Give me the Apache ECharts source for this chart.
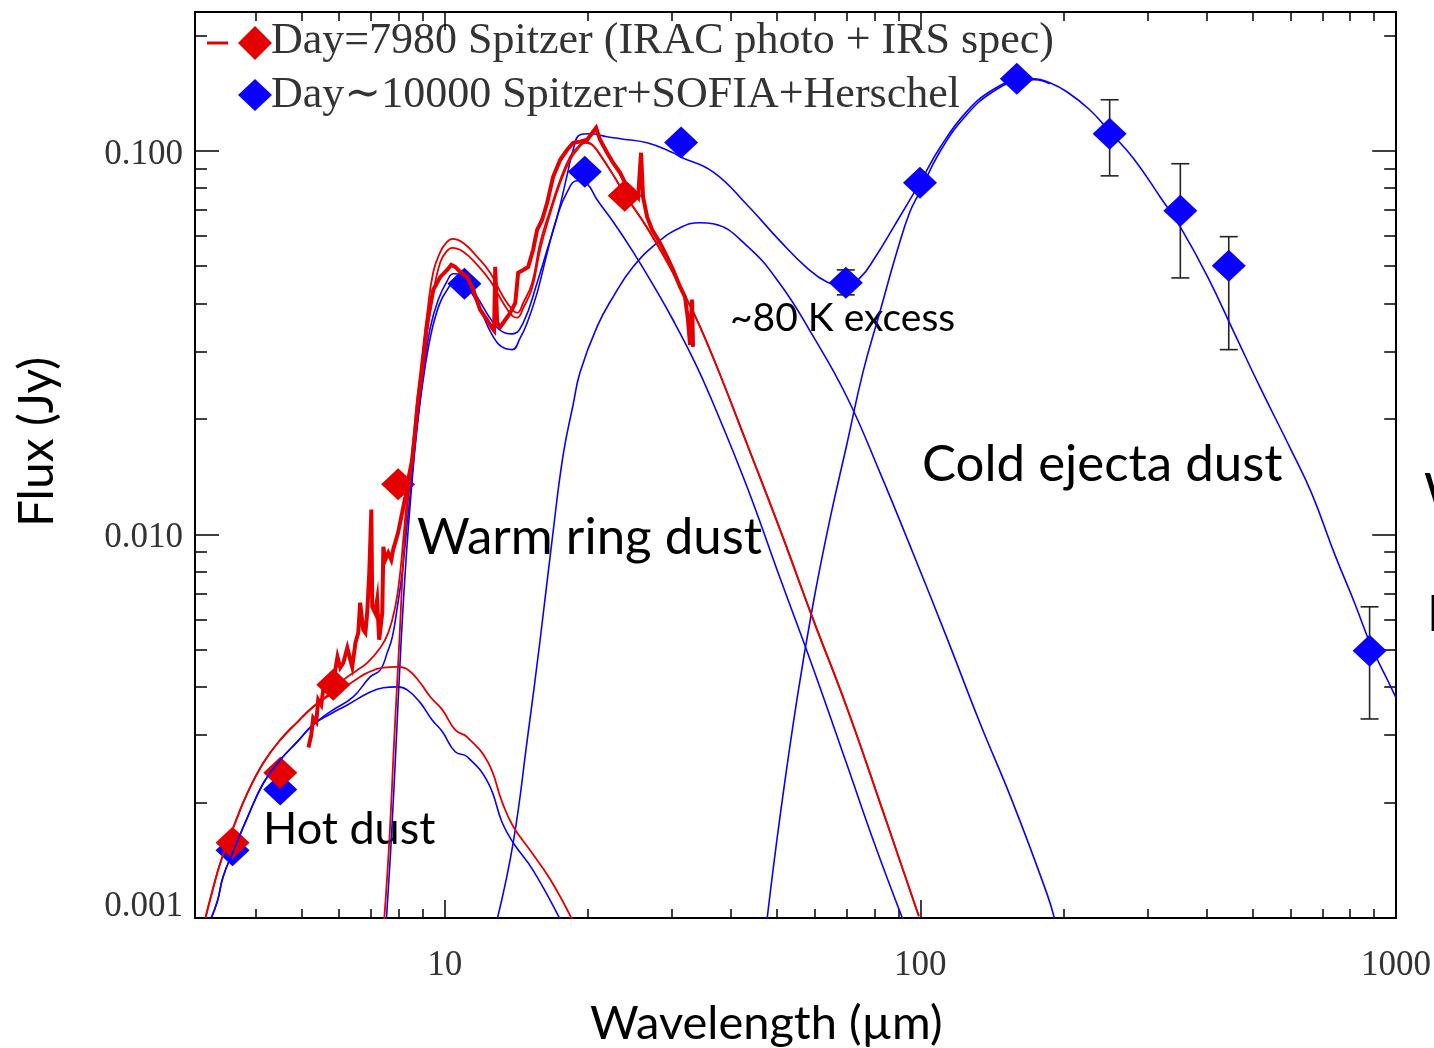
<!DOCTYPE html>
<html>
<head>
<meta charset="utf-8">
<title>SED</title>
<script src="https://cdn.jsdelivr.net/npm/echarts@6.0.0/dist/echarts.min.js"></script>
<style>
  html, body { margin: 0; padding: 0; background: #fff; }
  #chart { width: 1434px; height: 1048px; }
</style>
</head>
<body>
<div id="chart"></div>
<script>
// ticks
var xMajor = [10, 100, 1000];
var xMinor = [4, 5, 6, 7, 8, 9, 20, 30, 40, 50, 60, 70, 80, 90, 200, 300, 400, 500, 600, 700, 800, 900];
var yMajor = [0.001, 0.01, 0.1];
var yMinor = [0.002, 0.003, 0.004, 0.005, 0.006, 0.007, 0.008, 0.009,
  0.02, 0.03, 0.04, 0.05, 0.06, 0.07, 0.08, 0.09, 0.2];

// photometry [wavelength um, flux Jy]
var redPhot = [[3.58, 0.00157], [4.51, 0.00239], [5.83, 0.00405], [7.98, 0.0135], [23.9, 0.0763]];
var bluePhot = [[3.58, 0.00150], [4.51, 0.00216], [11.0, 0.0450], [19.7, 0.0881], [31.4, 0.105],
  [69.7, 0.0453], [99.8, 0.0825], [159.5, 0.154], [250, 0.1107], [352, 0.0697], [445, 0.0501], [880, 0.00497]];
// [wavelength, low, high]
var blueErr = [[69.7, 0.0421, 0.0489], [250, 0.0860, 0.1358], [352, 0.0466, 0.0925],
  [445, 0.0303, 0.0597], [880, 0.00330, 0.00647]];

// IRS spectrum, day 7980
var redSpec = [[5.17,0.00278],[5.24,0.00300],[5.29,0.00332],[5.37,0.00324],[5.42,0.00370],[5.50,0.00359],
  [5.56,0.00398],[5.64,0.00393],[5.75,0.00425],[5.83,0.00412],[5.95,0.00479],[6.03,0.00449],[6.12,0.00462],
  [6.24,0.00506],[6.33,0.00471],[6.39,0.00451],[6.49,0.00521],[6.58,0.00554],[6.64,0.00663],[6.74,0.00564],
  [6.81,0.00554],[6.87,0.00624],[6.94,0.00794],[7.01,0.0116],[7.04,0.00647],[7.14,0.00624],[7.21,0.00675],
  [7.28,0.00531],[7.39,0.00624],[7.43,0.00928],[7.50,0.00858],[7.61,0.00895],[7.72,0.00858],[7.79,0.00911],
  [7.98,0.0101],[8.14,0.0114],[8.26,0.0125],[8.38,0.0139],[8.54,0.0156],[8.67,0.0187],[8.79,0.0224],
  [8.97,0.0268],[9.19,0.0356],[9.46,0.0434],[9.79,0.0469],[10.12,0.0489],[10.32,0.0504],[10.52,0.0498],
  [10.78,0.0483],[11.15,0.0469],[11.48,0.0434],[11.87,0.0385],[12.28,0.0362],[12.58,0.0345],[12.70,0.0340],
  [12.77,0.0498],[12.89,0.0356],[13.08,0.0347],[13.40,0.0362],[13.73,0.0378],[14.07,0.0401],[14.27,0.0481],
  [14.62,0.0489],[14.98,0.0498],[15.34,0.0552],[15.64,0.0622],[16.02,0.0660],[16.42,0.0732],[16.90,0.0855],
  [17.49,0.0947],[18.09,0.1006],[18.62,0.1049],[19.26,0.1056],[19.93,0.1068],[20.51,0.1121],[20.81,0.1148],
  [21.21,0.1068],[21.95,0.0988],[22.60,0.0930],[23.38,0.0876],[23.94,0.0825],[24.89,0.0791],[25.50,0.0758],
  [25.87,0.0988],[26.12,0.0758],[26.64,0.0672],[27.29,0.0622],[28.36,0.0575],[29.34,0.0529],[30.20,0.0489],
  [31.24,0.0442],[32.00,0.0416],[32.47,0.0362],[32.79,0.0312],[33.11,0.0409],[33.27,0.0308]];

// model components, day 7980
var redHot = [[3.14,0.00100],[3.25,0.00118],[3.38,0.00140],[3.60,0.00173],[3.85,0.00212],[4.16,0.00254],
  [4.51,0.00291],[4.90,0.00324],[5.29,0.00355],[5.75,0.00382],[6.03,0.00393],[6.49,0.00417],[6.87,0.00435],
  [7.43,0.00449],[7.95,0.00451],[8.38,0.00443],[8.88,0.00410],[9.32,0.00377],[9.88,0.00349],[10.52,0.00309],
  [11.15,0.00296],[12.34,0.00254],[13.21,0.00200],[13.93,0.00173],[15.12,0.00150],[16.66,0.00126],[18.53,0.00099]];
var redWarm = [[7.46,0.00099],[7.65,0.00160],[7.83,0.00291],[8.03,0.00531],[8.22,0.00939],[8.42,0.0131],
  [8.63,0.0176],[8.88,0.0245],[9.19,0.0341],[9.50,0.0439],[9.79,0.0513],[10.07,0.0545],[10.37,0.0558],
  [10.94,0.0545],[11.70,0.0504],[12.46,0.0458],[13.27,0.0401],[13.87,0.0371],[14.20,0.0367],[14.62,0.0389],
  [15.27,0.0439],[15.87,0.0552],[16.66,0.0685],[17.49,0.0825],[18.35,0.0947],[19.07,0.1012],[19.73,0.1049],
  [20.41,0.1037],[21.21,0.0976],[22.60,0.0865],[23.94,0.0768],[26.64,0.0630],[29.34,0.0513],[32.31,0.0409],
  [34.41,0.0348],[37.91,0.0261],[43.20,0.0172],[50.67,0.0103],[59.45,0.00602],[70.08,0.00353],[82.20,0.00200],
  [99.27,0.00101]];
var redTotal = [[3.14,0.00100],[3.25,0.00118],[3.38,0.00140],[3.60,0.00173],[3.85,0.00212],[4.16,0.00254],
  [4.51,0.00291],[4.90,0.00324],[5.29,0.00355],[5.75,0.00386],[6.12,0.00417],[6.52,0.00441],[6.87,0.00462],
  [7.32,0.00506],[7.61,0.00554],[7.87,0.00647],[8.06,0.00794],[8.18,0.00968],[8.30,0.0118],[8.42,0.0139],
  [8.59,0.0176],[8.75,0.0224],[8.92,0.0277],[9.19,0.0378],[9.46,0.0483],[9.79,0.0545],[10.07,0.0575],
  [10.37,0.0589],[10.94,0.0575],[11.70,0.0529],[12.46,0.0481],[13.27,0.0416],[13.87,0.0385],[14.20,0.0378],
  [14.62,0.0401],[15.27,0.0453],[15.87,0.0575],[16.66,0.0701],[17.49,0.0840],[18.35,0.0965],[19.07,0.1024],
  [19.73,0.1056],[20.41,0.1037],[21.21,0.0976],[22.60,0.0865],[23.94,0.0768],[26.64,0.0630],[29.34,0.0513],
  [32.31,0.0409],[34.41,0.0348],[37.91,0.0261],[43.20,0.0172],[50.67,0.0103],[59.45,0.00602],[70.08,0.00353],
  [82.20,0.00200],[99.27,0.00101]];

// model components, day ~10000
var blueHot = [[3.23,0.00100],[3.33,0.00111],[3.42,0.00128],[3.60,0.00150],[3.85,0.00183],[4.16,0.00225],
  [4.51,0.00258],[4.90,0.00288],[5.29,0.00319],[5.75,0.00340],[6.24,0.00359],[6.97,0.00388],[7.43,0.00398],
  [7.95,0.00400],[8.34,0.00393],[8.88,0.00364],[9.41,0.00328],[9.88,0.00306],[10.52,0.00271],[11.15,0.00263],
  [12.34,0.00225],[13.21,0.00177],[13.93,0.00157],[15.34,0.00133],[17.49,0.00099]];
var blueWarm = [[7.54,0.00099],[7.72,0.00160],[7.91,0.00291],[8.10,0.00531],[8.30,0.00874],[8.51,0.0131],
  [8.71,0.0180],[9.01,0.0253],[9.37,0.0335],[9.74,0.0397],[10.12,0.0434],[10.52,0.0455],[11.04,0.0447],
  [11.70,0.0401],[12.65,0.0327],[13.40,0.0305],[13.87,0.0303],[14.41,0.0325],[14.91,0.0356],[15.64,0.0426],
  [16.42,0.0542],[17.23,0.0673],[18.09,0.0781],[18.98,0.0835],[19.93,0.0820],[20.91,0.0745],[22.60,0.0653],
  [24.89,0.0545],[27.42,0.0447],[30.20,0.0362],[33.60,0.0280],[36.65,0.0220],[43.20,0.0133],[50.67,0.00770],
  [59.45,0.00449],[70.08,0.00251],[80.24,0.00155],[91.9,0.00099]];
var blue80K = [[12.89,0.00099],[13.93,0.00157],[14.91,0.00291],[15.87,0.00531],[16.82,0.00968],[17.74,0.0161],
  [18.62,0.0218],[19.26,0.0265],[20.91,0.0348],[22.60,0.0416],[24.89,0.0498],[27.96,0.0575],[31.24,0.0630],
  [34.41,0.0649],[36.65,0.0645],[43.20,0.0565],[50.67,0.0450],[59.45,0.0329],[70.08,0.0228],[82.20,0.0145],
  [96.43,0.00895],[113.7,0.00537],[133.3,0.00323],[156.4,0.00200],[184.4,0.00116],[191.7,0.00099]];
var blueCold = [[47.6,0.00099],[50.67,0.00183],[55.03,0.00372],[59.45,0.00655],[64.5,0.0109],[70.08,0.0172],
  [75.7,0.0264],[82.20,0.0380],[89.25,0.0545],[95.06,0.0693],[99.75,0.0781],[109.9,0.0994],[124.6,0.1234],
  [142.0,0.1425],[161.1,0.1522],[174.0,0.1532],[187.1,0.1495]];
var blueTotal = [[3.23,0.00100],[3.33,0.00111],[3.42,0.00128],[3.60,0.00150],[3.85,0.00183],[4.16,0.00225],
  [4.51,0.00258],[4.90,0.00288],[5.29,0.00319],[5.75,0.00345],[6.42,0.00377],[6.97,0.00425],[7.32,0.00443],
  [7.57,0.00491],[7.76,0.00540],[7.95,0.00647],[8.14,0.00794],[8.34,0.0107],[8.54,0.0143],[8.75,0.0193],
  [9.01,0.0261],[9.32,0.0345],[9.69,0.0409],[10.12,0.0458],[10.42,0.0478],[10.78,0.0475],[11.31,0.0442],
  [11.70,0.0416],[12.65,0.0356],[13.40,0.0335],[13.87,0.0333],[14.62,0.0356],[15.64,0.0453],[16.42,0.0552],
  [17.23,0.0672],[18.09,0.0865],[18.62,0.1006],[19.26,0.1101],[20.22,0.1107],[21.95,0.1088],[23.38,0.1075],
  [26.64,0.1049],[30.20,0.0988],[31.24,0.0965],[36.65,0.0881],[43.20,0.0723],[50.67,0.0582],[57.74,0.0495],
  [63.61,0.0455],[69.40,0.0445],[74.64,0.0466],[80.24,0.0526],[88.41,0.0641],[99.75,0.0825],[109.9,0.1018],
  [124.6,0.1257],[142.0,0.1442],[161.1,0.1532],[174.0,0.1541],[187.1,0.1504],[203.2,0.1425],[227.0,0.1279],
  [251.3,0.1114],[280.9,0.0953],[320.1,0.0754],[352.6,0.0630],[401.8,0.0469],[458.0,0.0333],[519.2,0.0240],
  [600.2,0.0167],[664.5,0.0128],[742.6,0.00889],[818.0,0.00663],[888.3,0.00509],[964.2,0.00412],[1000,0.00375]];

var RED = '#e40000';
var BLUE = '#0a00ff';
var X_MIN = 2.985, X_MAX = 1001;
var Y_MIN = 0.000999, Y_MAX = 0.23;
var serif = '"Liberation Serif", "DejaVu Serif", serif';
var sans = 'Lato, "Open Sans", sans-serif';

var chart = echarts.init(document.getElementById('chart'), null, {renderer: 'canvas'});

function xAxisDef(pos, ticks, len, labels) {
  return {
    type: 'log', position: pos, min: X_MIN, max: X_MAX,
    axisLine: {show: labels !== null, onZero: false, lineStyle: {color: '#000', width: 2}},
    axisTick: {show: true, inside: true, length: len, customValues: ticks,
      lineStyle: {color: '#000', width: 1.5}},
    axisLabel: labels ? {show: true, customValues: labels, margin: 30,
      fontFamily: serif, fontSize: 35, color: '#333',
      formatter: function (v) { return String(Math.round(v)); }} : {show: false},
    splitLine: {show: false}
  };
}

function yAxisDef(pos, ticks, len, labels) {
  return {
    type: 'log', position: pos, min: Y_MIN, max: Y_MAX,
    axisLine: {show: labels !== null, onZero: false, lineStyle: {color: '#000', width: 2}},
    axisTick: {show: true, inside: true, length: len, customValues: ticks,
      lineStyle: {color: '#000', width: 1.5}},
    axisLabel: labels ? {show: true, customValues: labels, margin: 12,
      fontFamily: serif, fontSize: 35, color: '#333',
      formatter: function (v) {
        return v < 0.002 ? '{lo|0.001}' : '{n|' + v.toFixed(3) + '}';
      },
      rich: {
        lo: {fontFamily: serif, fontSize: 35, color: '#333', padding: [0, 0, 22, 0]},
        n: {fontFamily: serif, fontSize: 35, color: '#333', padding: [8, 0, 0, 0]}
      }} : {show: false},
    splitLine: {show: false}
  };
}

function modelLine(name, data, color, width) {
  return {
    name: name, type: 'line', data: data, showSymbol: false, symbol: 'none',
    smooth: 0.45, clip: true,
    lineStyle: {color: color, width: width}, silent: true
  };
}

function renderErr(params, api) {
  var x = api.value(0);
  var lo = api.coord([x, api.value(1)]);
  var hi = api.coord([x, api.value(2)]);
  var w = 9;
  var st = {stroke: '#222', lineWidth: 1.6};
  return {
    type: 'group',
    children: [
      {type: 'line', shape: {x1: lo[0], y1: lo[1], x2: hi[0], y2: hi[1]}, style: st},
      {type: 'line', shape: {x1: lo[0] - w, y1: lo[1], x2: lo[0] + w, y2: lo[1]}, style: st},
      {type: 'line', shape: {x1: hi[0] - w, y1: hi[1], x2: hi[0] + w, y2: hi[1]}, style: st}
    ]
  };
}

function label(text, x, y, size) {
  return {type: 'text', x: x, y: y, silent: true,
    style: {text: text, font: size + 'px ' + sans, fill: '#000', verticalAlign: 'middle'}};
}

var option = {
  animation: false,
  backgroundColor: '#fff',
  grid: {left: 195, right: 37, top: 12, bottom: 130, containLabel: false},
  xAxis: [
    xAxisDef('bottom', xMajor, 18, xMajor),
    xAxisDef('bottom', xMinor, 9, null),
    xAxisDef('top', xMajor, 18, false),
    xAxisDef('top', xMinor, 9, null)
  ],
  yAxis: [
    yAxisDef('left', yMajor, 24, yMajor),
    yAxisDef('left', yMinor, 12, null),
    yAxisDef('right', yMajor, 24, false),
    yAxisDef('right', yMinor, 12, null)
  ],
  series: [
    modelLine('blueHot', blueHot, BLUE, 1.6),
    modelLine('blueWarm', blueWarm, BLUE, 1.6),
    modelLine('blue80K', blue80K, BLUE, 1.6),
    modelLine('blueCold', blueCold, BLUE, 1.6),
    modelLine('blueTotal', blueTotal, BLUE, 1.6),
    modelLine('redHot', redHot, RED, 1.8),
    modelLine('redWarm', redWarm, RED, 1.8),
    modelLine('redTotal', redTotal, RED, 1.8),
    {
      name: 'IRS', type: 'line', data: redSpec, showSymbol: false, symbol: 'none',
      lineStyle: {color: RED, width: 4, join: 'miter'}, silent: true
    },
    {
      name: 'err', type: 'custom', data: blueErr, renderItem: renderErr,
      encode: {x: 0, y: [1, 2]}, silent: true
    },
    {
      name: 'Day~10000', type: 'scatter', data: bluePhot, symbol: 'diamond',
      symbolSize: [34, 32], itemStyle: {color: BLUE, opacity: 1}, silent: true
    },
    {
      name: 'Day=7980', type: 'scatter', data: redPhot, symbol: 'diamond',
      symbolSize: [34, 32], itemStyle: {color: RED, opacity: 1}, silent: true
    }
  ],
  graphic: [
    // legend
    {type: 'line', shape: {x1: 207, y1: 43, x2: 228, y2: 43}, style: {stroke: RED, lineWidth: 3}},
    {type: 'polygon', shape: {points: [[255, 26], [272, 43], [255, 60], [238, 43]]}, style: {fill: RED}},
    {type: 'text', x: 271, y: 41, style: {text: 'Day=7980 Spitzer (IRAC photo + IRS spec)',
      font: '44px ' + serif, fill: '#333', verticalAlign: 'middle'}},
    {type: 'polygon', shape: {points: [[255, 79], [272, 95], [255, 111], [238, 95]]}, style: {fill: BLUE}},
    {type: 'text', x: 271, y: 95, style: {text: 'Day\u223C10000 Spitzer+SOFIA+Herschel',
      font: '44px ' + serif, fill: '#333', verticalAlign: 'middle'}},
    // annotations
    label('Hot dust', 263, 829, 45),
    label('Warm ring dust', 417, 538, 51),
    label('Cold ejecta dust', 922, 465, 51),
    label('~80 K excess', 730, 318, 39),
    label('W', 1424, 493, 50),
    label('E', 1427, 615, 50),
    // axis titles
    label('Wavelength (\u00B5m)', 590, 1024, 47),
    {type: 'text', x: 38, y: 442, rotation: Math.PI / 2, silent: true,
      style: {text: 'Flux (Jy)', font: '48px ' + sans, fill: '#000',
        align: 'center', verticalAlign: 'middle'}}
  ]
};

chart.setOption(option);
</script>
</body>
</html>
